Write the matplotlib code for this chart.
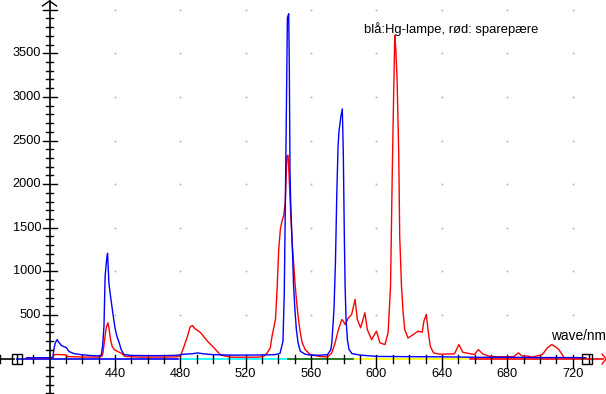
import matplotlib
matplotlib.use("Agg")
import matplotlib.pyplot as plt

plt.rcParams['font.family'] = ['Liberation Sans', 'DejaVu Sans']

# --- data ---
blue_nm = [386, 400, 402.0, 402.6, 403.5, 404.7, 405.5, 407.3, 410.3, 412, 415, 419.5, 425, 431.0,
           431.6, 432.5, 433.3, 434, 435, 435.5, 436.3, 437, 438, 439, 440, 441.2, 442.6, 443.8,
           445.6, 450, 460, 470, 478, 482, 487, 490.7, 494, 500, 510, 520, 530, 538, 541, 542.8,
           543.6, 544.2, 544.9, 545.5, 546.3, 546.7, 547.1, 547.5, 548.1, 548.7, 549.3, 550.1,
           551, 552, 553.4, 556.4, 560, 565, 570, 572, 572.7, 574, 574.9, 575.7, 576.5, 577.1,
           578.3, 579.1, 579.7, 580.3, 580.8, 581.4, 582.2, 583.2, 585, 590, 600, 620, 640, 660,
           680, 700, 720, 728]
blue_val = [8, 10, 12, 100, 180, 218, 190, 150, 125, 80, 57, 45, 35, 30,
            40, 150, 370, 946, 1150, 1207, 873, 758, 620, 486, 356, 256, 184, 103,
            46, 36, 34, 34, 38, 50, 55, 65, 55, 45, 40, 40, 42, 45, 60, 200,
            760, 1700, 2877, 3908, 3954, 3314, 2135, 1800, 1483, 1176, 831, 563,
            333, 184, 84, 50, 40, 38, 45, 100, 184, 563, 1103, 1866, 2440, 2613,
            2785, 2862, 2368, 1448, 831, 448, 218, 103, 57, 40, 25, 22, 20, 15,
            15, 12, 12, 10]

red_nm = [386, 400, 402.0, 402.8, 406, 410, 411, 420, 430, 432.0, 432.7, 433.7, 434.7, 435.7,
          436.5, 437.3, 438.3, 439.6, 441.4, 443.8, 446, 455, 470, 478, 480.3, 482.3, 484.4,
          486, 487.5, 489, 490.5, 492.5, 496.6, 500.6, 504.7, 510.8, 520, 528, 531, 533.1, 535,
          536.1, 538.2, 539.2, 540.2, 541.2, 542.2, 543.2, 544.2, 545.2, 545.9, 546.5, 547.2,
          548.3, 549.3, 550.3, 551.4, 552.3, 553.4, 554.6, 556.4, 559.5, 565.5, 570, 572.5,
          574.7, 576.7, 578.8, 579.7, 580.8, 582.8, 583.8, 584.8, 586.9, 588.3, 590.3, 592.9,
          594.4, 597, 600, 602.1, 605.2, 607.1, 608.6, 609.6, 610.6, 611.2, 611.8, 612.6, 613.6,
          614.2, 615.3, 616.3, 617.3, 619.3, 622.4, 625.4, 628, 629, 630.5, 631.5, 632.9, 634.9,
          638.6, 647.7, 650.4, 652.8, 657.9, 659.9, 662.3, 665, 669, 675, 684, 686.8, 689.2,
          692.3, 695.4, 701.5, 704.5, 707.2, 709.6, 711.6, 713.6, 714.7, 728]
red_val = [8, 8, 10, 46, 46, 42, 23, 18, 17, 25, 65, 218, 356, 410,
           333, 218, 141, 103, 84, 63, 26, 17, 17, 20, 40, 141, 256,
           364, 379, 341, 325, 295, 199, 123, 40, 17, 15, 17, 26, 65, 120,
           256, 448, 793, 1253, 1483, 1578, 1636, 1789, 2325, 2330, 2115, 1800,
           1368, 1100, 831, 601, 448, 295, 180, 103, 46, 23, 20, 60,
           180, 333, 448, 429, 390, 467, 486, 506, 678, 448, 353, 525,
           333, 218, 314, 180, 161, 295, 831, 2063, 3130, 3705, 3551, 3206, 2365,
           1406, 831, 525, 333, 236, 275, 314, 303, 429, 506, 333, 141, 65,
           50, 54, 161, 72, 54, 46, 103, 54, 26, 20, 23, 65, 29,
           29, 17, 46, 123, 161, 134, 103, 46, 10, 10]

y_labels = [500, 1000, 1500, 2000, 2500, 3000, 3500]
x_labels = [440, 480, 520, 560, 600, 640, 680, 720]

# colour bands of the wavelength axis
band_edges = [370, 380, 480, 546, 587, 657, 740]
band_colors = ['black', 'blue', 'cyan', '#006400', 'yellow', 'red']

# --- figure ---
fig = plt.figure(figsize=(6.06, 3.94), dpi=100)
ax = fig.add_axes([0, 0, 1, 1])
ax.set_xlim(369.7, 740.4)
ax.set_ylim(-406, 4111)
ax.axis('off')

px_x = 1.635     # pixels per nm
px_y = 0.08722   # pixels per count

# grid dots
for gx in x_labels:
    for gy in range(500, 4001, 500):
        ax.plot(gx, gy, marker='s', ms=1.2, color='#b0b0b0', mec='none', zorder=1)

# y axis with arrow
ax.plot([400, 400], [-406, 4100], color='black', lw=1.2, zorder=4)
ax.plot([400 - 7 / px_x, 400, 400 + 7 / px_x], [4100 - 5 / px_y, 4100, 4100 - 5 / px_y],
        color='black', lw=1.0, zorder=4)
for v in range(-400, 4001, 100):
    if v == 0:
        continue
    w = 7 if v % 500 == 0 else 3.5
    ax.plot([400 - w / px_x, 400 + w / px_x], [v, v], color='black', lw=1.0, zorder=4)
for v in y_labels:
    ax.text(400 - 8.5 / px_x, v, str(v), ha='right', va='center', fontsize=9.2)

# x axis coloured bands
for i in range(len(band_colors)):
    ax.plot([band_edges[i], band_edges[i + 1] - 1.5], [-5, -5], color=band_colors[i], lw=1.2, zorder=2)
ax.plot([738, 740.4, 738], [-5 + 5 / px_y, -5, -5 - 5 / px_y], color='red', lw=1.0, zorder=2)
for t in range(370, 731, 10):
    if t == 400:
        continue
    down = 8.5 if (t - 400) % 40 == 0 and t >= 440 else 4
    ax.plot([t, t], [-5 + 4 / px_y, -5 - down / px_y], color='black', lw=1.0, zorder=2)
for t in x_labels:
    ax.text(t, -5 - 9 / px_y, str(t), ha='center', va='top', fontsize=9.2)

# range markers
for bx in [380, 729]:
    ax.plot(bx, -5, marker='s', ms=6.5, mfc='none', mec='black', mew=1.0, zorder=5)

# spectra
ax.plot(red_nm, red_val, color='red', lw=1.0, zorder=3)
ax.plot(blue_nm, blue_val, color='blue', lw=1.0, zorder=3)

ax.text(364 / px_x + 369.7, (358.6 - 29) / px_y, 'blå:Hg-lampe, rød: sparepære',
        ha='left', va='center', fontsize=9.4)
ax.text(740.4 - 0.5 / px_x, (358.6 - 336) / px_y, 'wave/nm', ha='right', va='center', fontsize=9.8)

fig.savefig('out.png', dpi=100)
